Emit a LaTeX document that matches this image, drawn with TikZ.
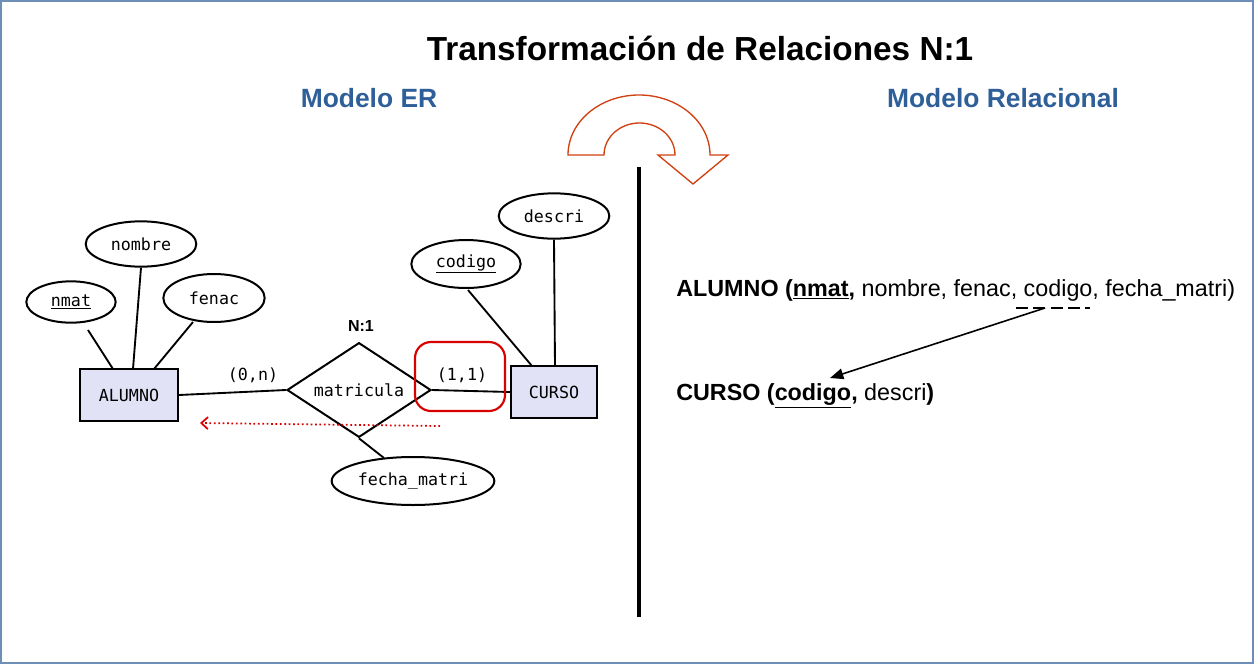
\documentclass[tikz,border=0pt]{standalone}
\usepackage{fontspec}
\setmainfont{Liberation Sans}
\newfontfamily\ermono{DejaVu Sans Mono}
\usetikzlibrary{shapes.geometric,arrows.meta}
\definecolor{ttl}{HTML}{2F5F98}
\definecolor{ent}{HTML}{E2E2F6}
\definecolor{uarr}{HTML}{D04010}
\tikzset{
  ent/.style={draw,line width=1.5pt,fill=ent,minimum width=73pt,minimum height=39pt,font=\ermono\fontsize{12.5}{14}\selectfont},
  att/.style={draw,ellipse,line width=1.5pt,inner sep=0pt,font=\ermono\fontsize{12.5}{14}\selectfont},
  lk/.style={line width=1.4pt},
  lbl/.style={font=\ermono\fontsize{12.5}{14}\selectfont},
}
\begin{document}
\begin{tikzpicture}[x=0.75pt,y=-0.75pt]
\useasboundingbox (0,0) rectangle (1254,664);
\draw[color=ttl!70,line width=0.8pt] (1,1) rectangle (1253,663);
\node[font=\bfseries\fontsize{25}{29}\selectfont] (title) at (700,48) {Transformación de Relaciones N:1};
\node[font=\bfseries\fontsize{19.8}{23}\selectfont,text=ttl] (mer) at (369,98) {Modelo ER};
\node[font=\bfseries\fontsize{19.8}{23}\selectfont,text=ttl] (mrel) at (1003,98) {Modelo Relacional};
% U-turn arrow
\draw[uarr,line width=1pt,fill=white] (568,155) arc[start angle=180,end angle=360,x radius=71,y radius=60] -- (728,155) -- (693,184) -- (658,155) -- (675,155) arc[start angle=0,end angle=-180,x radius=35.5,y radius=32] -- cycle;
\draw[line width=3pt] (639,167) -- (639,617);
% ER
\node[ent,minimum width=73.5pt] (alumno) at (129,395) {ALUMNO};
\node[ent,minimum width=64.5pt] (curso) at (554,392) {CURSO};
\node[draw,diamond,aspect=1.52,line width=1.5pt,inner sep=1pt,minimum width=108pt,minimum height=71pt,font=\ermono\fontsize{12.5}{14}\selectfont] (rel) at (359,390) {matricula};
\node[font=\bfseries\fontsize{12}{14}\selectfont] (n1) at (361,326) {N:1};
\node[att,minimum width=67pt,minimum height=31pt] (nmat) at (71,302) {\underline{nmat}};
\node[att,minimum width=83pt,minimum height=34pt] (nombre) at (141,244) {nombre};
\node[att,minimum width=76pt,minimum height=36pt] (fenac) at (214,298) {fenac};
\node[att,minimum width=82pt,minimum height=36pt] (codigo) at (466,264) {\underline{codigo}};
\node[att,minimum width=83pt,minimum height=34pt] (descri) at (554,216) {descri};
\node[att,minimum width=122pt,minimum height=36pt] (fecha) at (413,481) {fecha\_matri};
\draw[lk] (88,330) -- (113,369);
\draw[lk] (nombre.south) -- (133,369);
\draw[lk] (193,322) -- (154,369);
\draw[lk] (alumno.east) -- (rel.west);
\draw[lk] (rel.east) -- (curso.west);
\draw[lk] (468,290) -- (532,366);
\draw[lk] (descri.south) -- (555,366);
\draw[lk] (rel.south) -- (384,458);
\node[lbl] (l0n) at (253,375) {(0,n)};
\node[lbl] (l11) at (462,375) {(1,1)};
\draw[red!85!black,line width=1.6pt,rounded corners=12pt] (415,342) rectangle (505,411);
\coordinate (ra) at (440,426);
\coordinate (rb) at (200,423);
\draw[red!85!black,line width=1.3pt,dotted,-{Straight Barb[length=5pt,width=9pt,line width=1.3pt]}] (ra) -- (rb);
% relational
\node[anchor=base west,font=\fontsize{17.5}{20}\selectfont,inner sep=0pt] (ralum) at (676,296) {\textbf{ALUMNO (\underline{nmat},} nombre, fenac, codigo, fecha\_matri)};
\node[anchor=base west,font=\fontsize{17.5}{20}\selectfont,inner sep=0pt] (rcur) at (676,400) {\textbf{CURSO (\underline{codigo},} descri\textbf{)}};
\coordinate (dA) at (1016,308);
\coordinate (dB) at (1090,308);
\draw[line width=1.2pt,dash pattern=on 9pt off 4pt] (dA) -- (dB);
\coordinate (fk) at (1045,308);
\coordinate (pk) at (830,378);
\draw[line width=1.2pt,-{Triangle[length=10pt,width=8pt]}] (fk) -- (pk);
\end{tikzpicture}
\end{document}
